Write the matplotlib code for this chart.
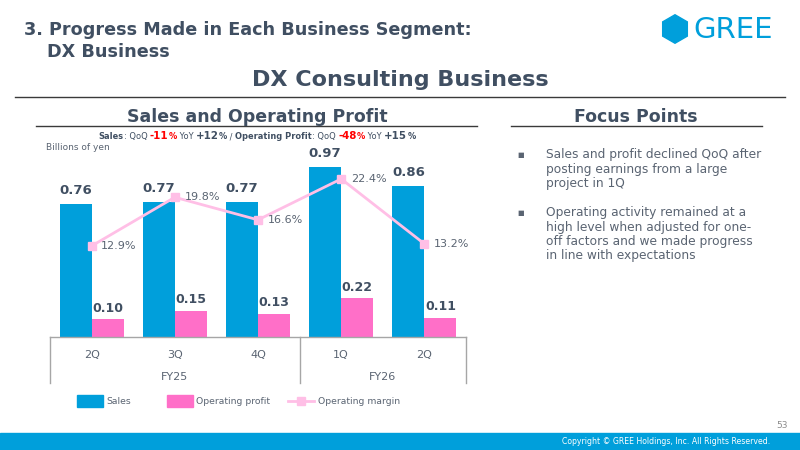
import matplotlib
matplotlib.use("Agg")
import matplotlib.pyplot as plt
from matplotlib.patches import Rectangle, RegularPolygon
from matplotlib.lines import Line2D
import numpy as np

plt.rcParams['font.family'] = ['DejaVu Sans']

# data
quarters = ["2Q", "3Q", "4Q", "1Q", "2Q"]
fiscal_years = ["FY25", "FY26"]
sales = [0.76, 0.77, 0.77, 0.97, 0.86]
op_profit = [0.10, 0.15, 0.13, 0.22, 0.11]
op_margin = [12.9, 19.8, 16.6, 22.4, 13.2]
legend_labels = ["Sales", "Operating profit", "Operating margin"]
focus_points = [
    "Sales and profit declined QoQ after\nposting earnings from a large\nproject in 1Q",
    "Operating activity remained at a\nhigh level when adjusted for one-\noff factors and we made progress\nin line with expectations",
]

DARK = '#404F62'
GRAY = '#5A6472'
BLUE = '#009FDB'
PINK = '#FF6FC8'
LPINK = '#FFBFE6'
RED = '#FF0000'

W, H = 800, 450
fig = plt.figure(figsize=(8, 4.5), dpi=100)


def fx(px):
    return px / W


def fy(py):
    return 1 - py / H


# headers
fig.text(fx(24), fy(35), "3. Progress Made in Each Business Segment:", fontsize=12.7,
         fontweight='bold', color=DARK, va='baseline')
fig.text(fx(47), fy(57), "DX Business", fontsize=12.7, fontweight='bold', color=DARK, va='baseline')
fig.text(fx(400), fy(80), "DX Consulting Business", fontsize=16, fontweight='bold', color=DARK,
         ha='center', va='center')
fig.add_artist(Line2D([fx(15), fx(785)], [fy(97), fy(97)], color='#3A3A3A', lw=1))

fig.text(fx(257), fy(117), "Sales and Operating Profit", fontsize=12.5, fontweight='bold',
         color=DARK, ha='center', va='center')
fig.add_artist(Line2D([fx(36), fx(477)], [fy(126), fy(126)], color='#3A3A3A', lw=1))
fig.text(fx(636), fy(117), "Focus Points", fontsize=12.5, fontweight='bold',
         color=DARK, ha='center', va='center')
fig.add_artist(Line2D([fx(511), fx(762)], [fy(126), fy(126)], color='#3A3A3A', lw=1))

# logo
lax = fig.add_axes([fx(660), fy(44), fx(30), 30 / H])
lax.set_xlim(-1, 1)
lax.set_ylim(-1, 1)
lax.set_aspect('equal')
lax.axis('off')
lax.add_patch(RegularPolygon((0, 0), 6, radius=0.95, orientation=0, color=BLUE))
fig.text(fx(693), fy(30), "GREE", fontsize=21, color=BLUE, va='center', ha='left')

# summary line with mixed styles
runs = [
    ("Sales", 5.95, 'bold', DARK), (": QoQ ", 5.95, 'normal', DARK),
    ("-11", 7.35, 'bold', RED), ("%", 5.95, 'bold', RED), (" YoY ", 5.95, 'normal', DARK),
    ("+12", 7.35, 'bold', DARK), ("%", 5.95, 'bold', DARK), (" / ", 5.95, 'normal', DARK),
    ("Operating Profit", 5.95, 'bold', DARK), (": QoQ ", 5.95, 'normal', DARK),
    ("-48", 7.35, 'bold', RED), ("%", 5.95, 'bold', RED), (" YoY ", 5.95, 'normal', DARK),
    ("+15", 7.35, 'bold', DARK), ("%", 5.95, 'bold', DARK),
]
renderer = fig.canvas.get_renderer()
texts = []
total = 0
for s, size, weight, col in runs:
    t = fig.text(0, fy(139), s, fontsize=size, fontweight=weight, color=col, va='baseline')
    w = t.get_window_extent(renderer).width
    texts.append((t, w))
    total += w
x = 257 - total / 2
for t, w in texts:
    t.set_x(fx(x))
    x += w

fig.text(fx(46), fy(148), "Billions of yen", fontsize=6.5, color=GRAY, va='center')

# chart
ax = fig.add_axes([fx(50), fy(337), fx(416), 187 / H])
ax2 = ax.twinx()
idx = np.arange(len(quarters))
bw = 0.385
ax.bar(idx - bw / 2, sales, bw, color=BLUE, zorder=2)
ax.bar(idx + bw / 2, op_profit, bw, color=PINK, zorder=2)
for i in idx:
    ax.annotate(f"{sales[i]:.2f}", (i - bw / 2, sales[i]), xytext=(0, 5), textcoords='offset points',
                ha='center', va='bottom', fontsize=9.5, fontweight='bold', color=DARK)
    ax.annotate(f"{op_profit[i]:.2f}", (i + bw / 2, op_profit[i]), xytext=(0, 3.5), textcoords='offset points',
                ha='center', va='bottom', fontsize=9, fontweight='bold', color=DARK)
ax.set_xlim(-0.5, len(quarters) - 0.5)
ax.set_ylim(0, 1.067)
ax2.set_ylim(0, 26.5)
ax2.plot(idx, op_margin, color=LPINK, lw=2, marker='s', markersize=6, zorder=3)
for i in idx:
    ax2.annotate(f"{op_margin[i]:.1f}%", (i, op_margin[i]), xytext=(7, 0), textcoords='offset points',
                 ha='left', va='center', fontsize=8, color=GRAY)
for a in (ax, ax2):
    a.set_xticks([])
    a.set_yticks([])
    for sp in a.spines.values():
        sp.set_visible(False)
ax.set_zorder(1)
ax2.set_zorder(2)
ax.patch.set_visible(False)
ax2.patch.set_visible(False)

# category box
lc = '#A6A6A6'
ax.plot([0, 1], [0, 0], transform=ax.transAxes, color=lc, lw=1, clip_on=False)
for xv in (0, 0.6, 1):
    ax.plot([xv, xv], [0, -0.246], transform=ax.transAxes, color=lc, lw=1, clip_on=False)
for i, q in enumerate(quarters):
    ax.text(i, -0.096, q, transform=ax.get_xaxis_transform(), ha='center', va='center',
            fontsize=8, color=GRAY)
ax.text(1, -0.214, fiscal_years[0], transform=ax.get_xaxis_transform(), ha='center', va='center',
        fontsize=8, color=GRAY)
ax.text(3.5, -0.214, fiscal_years[1], transform=ax.get_xaxis_transform(), ha='center', va='center',
        fontsize=8, color=GRAY)

# legend (placed by hand to match the slide spacing)
ly = 401
fig.add_artist(Rectangle((fx(77), fy(ly + 6)), fx(26), 12 / H, color=BLUE, transform=fig.transFigure))
fig.text(fx(106), fy(ly), legend_labels[0], fontsize=6.7, color=GRAY, va='center')
fig.add_artist(Rectangle((fx(167), fy(ly + 6)), fx(26), 12 / H, color=PINK, transform=fig.transFigure))
fig.text(fx(196), fy(ly), legend_labels[1], fontsize=6.7, color=GRAY, va='center')
fig.add_artist(Line2D([fx(288), fx(314)], [fy(ly), fy(ly)], color=LPINK, lw=2))
fig.add_artist(Line2D([fx(301)], [fy(ly)], color=LPINK, marker='s', markersize=6, lw=0))
fig.text(fx(318), fy(ly), legend_labels[2], fontsize=6.7, color=GRAY, va='center')

# focus points
yb = 155
for fp in focus_points:
    fig.text(fx(517), fy(yb), "■", fontsize=5, color=GRAY, va='center')
    fig.text(fx(546), fy(yb - 7), fp, fontsize=8.8, color=GRAY, va='top', linespacing=1.15)
    yb += 58

# footer
fig.add_artist(Rectangle((0, 0), 1, 17 / H, color=BLUE, transform=fig.transFigure))
fig.text(fx(770), fy(442), "Copyright \u00a9 GREE Holdings, Inc. All Rights Reserved.", fontsize=5.6,
         color='white', ha='right', va='center')
fig.text(fx(788), fy(425), "53", fontsize=6.5, color='#8C8C8C', ha='right', va='center')

fig.savefig("out.png", dpi=100)
